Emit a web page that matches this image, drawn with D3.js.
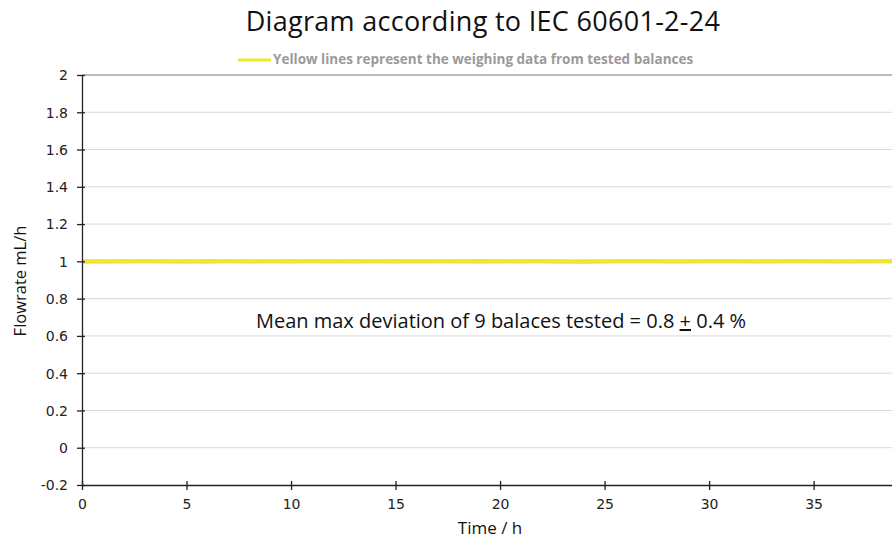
<!DOCTYPE html>
<html>
<head>
<meta charset="utf-8">
<script src="https://cdn.jsdelivr.net/npm/d3@7"></script>
<style>
  body { margin: 0; background: #fff; }
  svg { display: block; }
</style>
</head>
<body>
<svg id="chart" width="892" height="538"></svg>
<script>
// y axis tick values
const yTicks = [-0.2, 0, 0.2, 0.4, 0.6, 0.8, 1, 1.2, 1.4, 1.6, 1.8, 2];
// x axis tick values
const xTicks = [0, 5, 10, 15, 20, 25, 30, 35];

// time in hours
const timeH = [0, 1, 2, 3, 4, 5, 6, 7, 8, 9, 10, 11, 12, 13, 14, 15, 16, 17, 18, 19,
  20, 21, 22, 23, 24, 25, 26, 27, 28, 29, 30, 31, 32, 33, 34, 35, 36, 37, 38, 38.75];

// weighing data of the tested balances (flowrate mL/h)
const balanceA = [0.998, 1.001, 0.999, 1.002, 0.999, 1.001, 0.998, 1.002, 1.000, 1.001,
  0.999, 1.002, 1.000, 0.999, 1.001, 1.002, 0.999, 1.001, 1.000, 1.002,
  1.001, 0.999, 1.002, 1.000, 0.998, 1.001, 1.000, 1.002, 0.999, 1.001,
  1.000, 1.002, 0.999, 1.001, 1.000, 1.001, 0.999, 1.000, 1.001, 1.000];
const balanceB = [1.000, 0.999, 1.002, 1.000, 1.001, 0.999, 1.002, 1.000, 0.999, 1.001,
  1.002, 1.000, 0.999, 1.002, 1.000, 0.999, 1.001, 1.000, 0.999, 1.001,
  0.999, 1.002, 1.000, 0.998, 1.001, 0.999, 1.002, 1.000, 1.001, 0.999,
  1.002, 1.000, 1.001, 0.999, 1.002, 1.000, 1.001, 0.999, 1.000, 1.001];

const svg = d3.select('#chart');
const margin = { top: 75, right: 0, bottom: 53, left: 82 };
const width = 892 - margin.left - margin.right;
const height = 538 - margin.top - margin.bottom;

const x = d3.scaleLinear().domain([0, 38.75]).range([0, width]);
const y = d3.scaleLinear().domain([-0.2, 2]).range([height, 0]);

const g = svg.append('g').attr('transform', `translate(${margin.left},${margin.top})`);

// Gridlines
g.selectAll('line.grid')
  .data(yTicks.filter(d => d > -0.2 && d < 2))
  .enter().append('line')
  .attr('class', 'grid')
  .attr('x1', 0)
  .attr('x2', width)
  .attr('y1', d => y(d))
  .attr('y2', d => y(d))
  .attr('stroke', '#d9d9d9')
  .attr('stroke-width', 1);

// top border
g.append('line')
  .attr('x1', 0).attr('x2', width)
  .attr('y1', y(2)).attr('y2', y(2))
  .attr('stroke', '#777')
  .attr('stroke-width', 1);

// Lines
const line = d3.line()
  .x((d, i) => x(timeH[i]))
  .y(d => y(d));

[balanceA, balanceB].forEach((series) => {
  g.append('path')
    .datum(series)
    .attr('fill', 'none')
    .attr('stroke', '#f2e52f')
    .attr('stroke-width', 4)
    .attr('d', line);
});

// Axes
const tickFmt = d => String(d);
const yAxis = d3.axisLeft(y).tickValues(yTicks).tickSize(0).tickPadding(0).tickFormat(tickFmt);
const xAxis = d3.axisBottom(x).tickValues(xTicks).tickSize(0).tickFormat(tickFmt);

const yAxisG = g.append('g').call(yAxis);
yAxisG.select('.domain').attr('stroke', '#222').attr('stroke-width', 1.3);
yAxisG.selectAll('.tick line').remove();
yAxisG.selectAll('.tick')
  .append('line')
  .attr('x1', -5).attr('x2', 3)
  .attr('stroke', '#222').attr('stroke-width', 1.3);
yAxisG.selectAll('.tick text')
  .attr('x', -14)
  .attr('dy', '0.35em')
  .style('font-family', "'DejaVu Sans', Verdana, sans-serif")
  .style('font-size', '14px')
  .style('fill', '#222');

const xAxisG = g.append('g').attr('transform', `translate(0,${height})`).call(xAxis);
xAxisG.select('.domain').attr('stroke', '#222').attr('stroke-width', 1.3);
xAxisG.selectAll('.tick line').remove();
xAxisG.selectAll('.tick')
  .append('line')
  .attr('y1', -4).attr('y2', 5)
  .attr('stroke', '#222').attr('stroke-width', 1.3);
xAxisG.selectAll('.tick text')
  .attr('y', 14)
  .style('font-family', "'DejaVu Sans', Verdana, sans-serif")
  .style('font-size', '14px')
  .style('fill', '#222');

// Title
svg.append('text')
  .attr('x', 483)
  .attr('y', 31)
  .attr('text-anchor', 'middle')
  .style('font-family', "'Open Sans', sans-serif")
  .style('font-size', '27px')
  .style('letter-spacing', '0.3px')
  .style('fill', '#111')
  .text('Diagram according to IEC 60601-2-24');

// Legend
svg.append('line')
  .attr('x1', 238).attr('x2', 271)
  .attr('y1', 60).attr('y2', 60)
  .attr('stroke', '#f2e52f')
  .attr('stroke-width', 3);
svg.append('text')
  .attr('x', 273)
  .attr('y', 64)
  .style('font-family', "'Open Sans', sans-serif")
  .style('font-size', '13.5px')
  .style('font-weight', 'bold')
  .style('fill', '#9a9a9a')
  .text('Yellow lines represent the weighing data from tested balances');

// Annotation
const note = svg.append('text')
  .attr('x', 501)
  .attr('y', 328)
  .attr('text-anchor', 'middle')
  .style('font-family', "'Open Sans', sans-serif")
  .style('font-size', '20px')
  .style('fill', '#111');
note.append('tspan').text('Mean max deviation of 9 balaces tested = 0.8 ');
note.append('tspan').style('text-decoration', 'underline').text('+');
note.append('tspan').text(' 0.4 %');

// Axis labels
svg.append('text')
  .attr('transform', 'translate(26,281) rotate(-90)')
  .attr('text-anchor', 'middle')
  .style('font-family', "'Open Sans', sans-serif")
  .style('font-size', '16.5px')
  .style('fill', '#111')
  .text('Flowrate mL/h');

svg.append('text')
  .attr('x', 490)
  .attr('y', 534)
  .attr('text-anchor', 'middle')
  .style('font-family', "'Open Sans', sans-serif")
  .style('font-size', '17px')
  .style('fill', '#111')
  .text('Time / h');
</script>
</body>
</html>
